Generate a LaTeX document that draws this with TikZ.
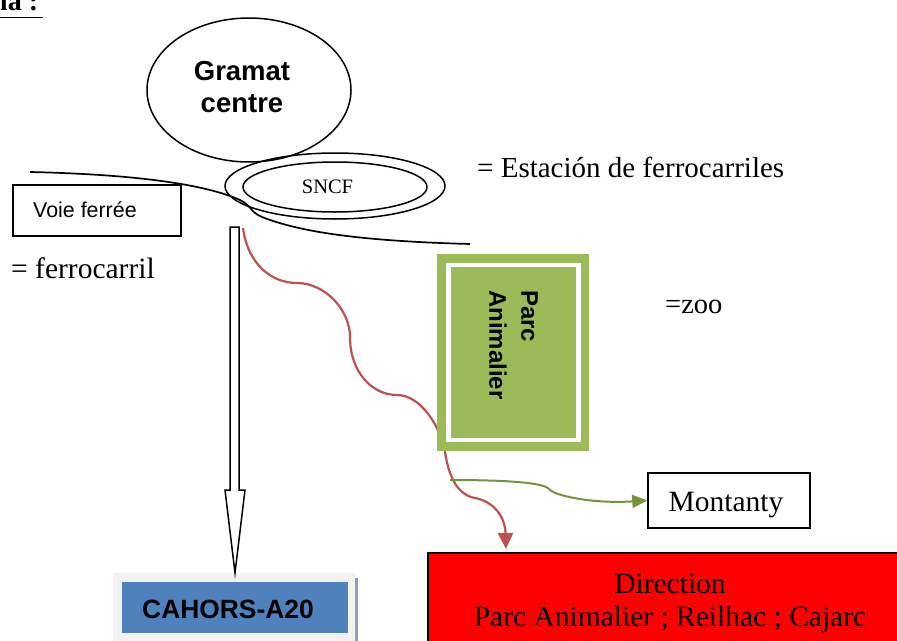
\documentclass[tikz,border=0pt]{standalone}
\usepackage{fontspec}
\setmainfont{Liberation Serif}
\newfontfamily\arialf{Liberation Sans}
\usetikzlibrary{arrows.meta,shapes.geometric}
\definecolor{zoogreen}{HTML}{9BBB59}
\definecolor{zoodark}{HTML}{77933C}
\definecolor{rdline}{HTML}{C0504D}
\definecolor{cahblue}{HTML}{4F81BD}
\definecolor{cahgray}{HTML}{F2F2F2}
\definecolor{cahshadow}{HTML}{8EA0BE}
\tikzset{
  blk/.style={line width=1.7pt, black},
  serif/.style={font=\fontsize{29.5}{33}\selectfont, inner sep=0pt},
  boxnode/.style={draw, line width=1.5pt, inner sep=0pt},
  redline/.style={draw=rdline, line width=2.2pt},
  greenline/.style={draw=zoodark, line width=2pt},
}
\begin{document}
\begin{tikzpicture}[x=1pt,y=-1pt]
\useasboundingbox (0,0) rectangle (897,640);

% title (cut off at the left edge)
\node[anchor=base east, inner sep=0pt, font=\bfseries\fontsize{28}{32}\selectfont] (title) at (43,10) {\underline{Esquema :\,}};

\coordinate (rstart) at (243,228);
\coordinate (gstart) at (450,480);

% Gramat centre
\node[draw, ellipse, line width=1.5pt, minimum width=204pt, minimum height=144pt, inner sep=0pt] (gramat) at (249,90) {};
\node[align=center, inner sep=0pt, font=\arialf\bfseries\fontsize{27.5}{32}\selectfont] (gramattxt) at (242,87) {Gramat\\centre};

% SNCF double ellipse
\node[draw, ellipse, line width=1.5pt, minimum width=220pt, minimum height=66pt, inner sep=0pt] (sncfout) at (335,186) {};
\node[draw, ellipse, line width=1.5pt, minimum width=184pt, minimum height=50pt, inner sep=0pt] (sncf) at (335,187) {};
\node[inner sep=0pt, font=\fontsize{20.5}{24}\selectfont] (sncftxt) at (327.5,187) {SNCF};

% railway
\coordinate (railW) at (30,172);
\coordinate (railE) at (470,244);
\draw[blk] (railW) .. controls (120,174) and (200,182) .. (240,200)
  .. controls (252,206) and (250,212) .. (262,217)
  .. controls (300,232) and (360,241) .. (railE);

% Voie ferree box
\node[boxnode, minimum width=168pt, minimum height=51pt] (voie) at (97,210.5) {};
\node[anchor=base west, inner sep=0pt, font=\arialf\fontsize{21.4}{24}\selectfont] (voietxt) at (33,217) {Voie ferrée};

% legend texts
\node[serif, anchor=base west] (ferro) at (11,278) {= ferrocarril};
\node[serif, anchor=base west, font=\fontsize{29}{33}\selectfont] (estacion) at (477,177) {= Estación de ferrocarriles};
\node[serif, anchor=base west, font=\fontsize{28.5}{33}\selectfont] (zootxt) at (665,313) {=zoo};

% red curve
\draw[redline, -{Triangle[length=16pt,width=15pt]}] (rstart)
  .. controls (248,265) and (272,283) .. (297,283)
  .. controls (325,283) and (350,310) .. (350,337)
  .. controls (350,372) and (372,395) .. (397,395)
  .. controls (420,395) and (440,425) .. (445,452)
  .. controls (449,478) and (458,495) .. (475,498)
  .. controls (492,501) and (505,515) .. (506,549);

% zoo box
\node[fill=zoogreen, minimum width=152pt, minimum height=197pt, inner sep=0pt] (zoo) at (513,352.5) {};
\node[draw=white, fill=zoogreen, line width=4.5pt, minimum width=130pt, minimum height=175pt, inner sep=0pt] (zooin) at (513.5,352.5) {};
\node[rotate=-90, anchor=north west, align=left, inner sep=0pt, font=\arialf\bfseries\fontsize{24}{32}\selectfont] (zootext) at (538,290) {Parc\\Animalier};

% Montanty
\node[boxnode, minimum width=162pt, minimum height=55pt] (montanty) at (729,500.5) {};
\node[serif, anchor=base] (montantytxt) at (726,511) {Montanty};
\draw[greenline, -{Triangle[length=15pt,width=13pt]}] (gstart)
  .. controls (500,480) and (543,482) .. (549,489)
  .. controls (553,495) and (590,504) .. (montanty.west);

% Direction box
\node[draw, line width=1.2pt, fill=red, minimum width=484pt, minimum height=97pt, inner sep=0pt] (direction) at (670,601.5) {};
\node[align=center, inner sep=0pt, font=\fontsize{29.5}{33}\selectfont] (dirtxt) at (670,603) {Direction\\Parc Animalier ; Reilhac ; Cajarc};

% CAHORS box
\fill[cahshadow] (355,578) rectangle (358,645);
\node[fill=cahgray, minimum width=242pt, minimum height=72pt, inner sep=0pt] (cahors) at (234,609) {};
\node[fill=cahblue, minimum width=226pt, minimum height=51pt, inner sep=0pt] (cahorsin) at (235,607.5) {};
\node[anchor=base west, inner sep=0pt, font=\arialf\bfseries\fontsize{26.4}{30}\selectfont] (cahorstxt) at (142,618) {CAHORS-A20};

% hollow arrow to CAHORS
\draw[line width=1.5pt, fill=white] (230,227) -- (239,227) -- (239,490) -- (245,490) -- (cahors.north -| 235,0) -- (225,490) -- (230,490) -- cycle;

\end{tikzpicture}
\end{document}
